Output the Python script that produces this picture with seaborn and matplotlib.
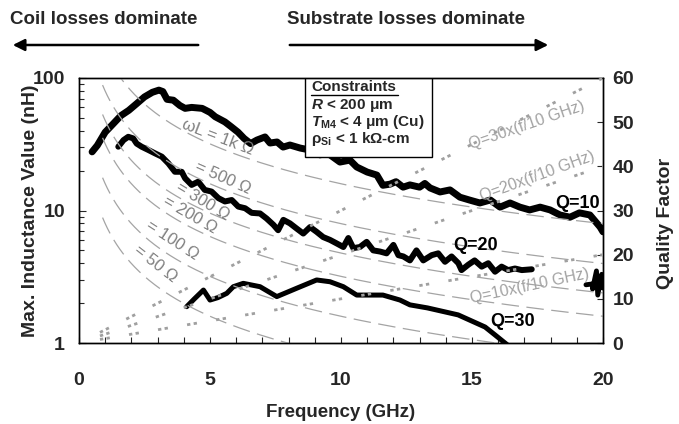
import numpy as np
import pandas as pd
import matplotlib
matplotlib.use("Agg")
import matplotlib.pyplot as plt
import seaborn as sns
from matplotlib import font_manager
from matplotlib.patches import Rectangle, FancyArrowPatch
from matplotlib.ticker import FixedLocator, NullFormatter, MultipleLocator

# ---------------- data ----------------
q10_freq = [0.5, 0.7, 1.0, 1.3, 1.6, 1.9, 2.2, 2.5, 2.8, 3.05, 3.2, 3.36, 3.6, 3.85,
            4.05, 4.3, 4.7, 5.0, 5.2, 5.57, 5.8, 6.07, 6.3, 6.55, 6.79, 7.1, 7.29,
            7.56, 7.79, 8.05, 8.44, 8.82, 9.2, 9.4, 9.58, 9.96, 10.34, 10.6, 11.0,
            11.37, 11.6, 11.87, 12.1, 12.37, 12.63, 13.0, 13.2, 13.4, 13.78, 14.16,
            14.54, 14.9, 15.3, 15.7, 16.07, 16.45, 16.83, 17.2, 17.6, 17.98, 18.36,
            18.74, 19.1, 19.5, 19.89, 20.0]
q10_L = [27.7, 31, 39, 45, 52, 57, 64, 72, 78, 81, 79, 69, 68, 62,
         59, 60, 59, 55, 51, 46.6, 43, 39, 35, 32, 34, 35.9, 32.3,
         32.9, 30.1, 31.2, 29.6, 28.6, 26.3, 27, 26.3, 23.2, 24, 21.3, 19.5,
         18.5, 15.5, 15.8, 16.5, 15, 15.6, 15, 16, 14.8, 13.8, 14.3,
         12.6, 12, 11.4, 12, 10.6, 11.4, 10.6, 10.1, 10.6, 10.1, 9.25,
         8.9, 9.6, 9.25, 7.5, 6.9]

q20_freq = [1.5, 1.7, 1.88, 2.07, 2.2, 2.39, 2.65, 2.9, 3.16, 3.41, 3.66, 3.92, 4.05,
            4.3, 4.55, 4.8, 5.06, 5.32, 5.57, 5.83, 6.08, 6.34, 6.59, 6.91, 7.16,
            7.42, 7.6, 7.8, 8.05, 8.31, 8.56, 8.82, 9.07, 9.32, 9.58, 9.83, 10.09,
            10.28, 10.47, 10.72, 10.98, 11.23, 11.49, 11.74, 12.0, 12.19, 12.38,
            12.63, 12.88, 13.14, 13.46, 13.71, 13.97, 14.22, 14.48, 14.6, 14.86,
            15.1, 15.37, 15.62, 15.88, 16.13, 16.38, 16.64, 16.9, 17.28]
q20_L = [30.3, 34, 36, 35, 32, 30.3, 28.6, 27, 25.5, 22.7, 19.6, 19.6, 17.5,
         15.6, 16.5, 14.3, 13.9, 12.4, 11.7, 12, 10.7, 10.4, 9.6, 9.5, 8.7,
         7.8, 7.1, 8.5, 8.0, 7.3, 6.7, 7.5, 6.9, 6.3, 6.0, 5.65, 5.3,
         6.2, 5.2, 5.3, 5.8, 5.0, 4.9, 4.75, 5.5, 4.6, 4.5,
         4.2, 5.0, 4.2, 4.6, 4.75, 4.1, 4.5, 4.0, 3.55, 3.9,
         4.2, 3.77, 4.0, 3.45, 3.77, 3.55, 3.65, 3.55, 3.6]

q20_tail_freq = [19.35, 19.65, 19.6, 19.75, 19.8, 19.95, 20.0]
q20_tail_L = [2.75, 2.8, 2.55, 3.5, 2.3, 3.3, 2.6]

q30_freq = [4.11, 4.4, 4.75, 5.0, 5.3, 5.64, 5.89, 6.27, 6.91, 7.55, 8.31, 9.07,
            9.58, 10.09, 10.6, 11.6, 12.25, 12.63, 13.3, 14.47, 15.5, 15.88, 16.26, 16.4]
q30_L = [1.88, 2.15, 2.51, 2.11, 2.2, 2.37, 2.66, 2.82, 2.66, 2.24, 2.59, 2.99,
         2.9, 2.66, 2.3, 2.3, 2.11, 1.94, 1.84, 1.63, 1.32, 1.15, 1.0, 0.95]

reactances_ohm = [1000, 500, 300, 200, 100, 50]
reactance_labels = ["ωL = 1k Ω", "= 500 Ω", "= 300 Ω", "= 200 Ω", "= 100 Ω", "= 50 Ω"]
q_slopes = [10, 20, 30]
q_slope_labels = ["Q=10x(f/10 GHz)", "Q=20x(f/10 GHz)", "Q=30x(f/10 GHz)"]
curve_labels = ["Q=10", "Q=20", "Q=30"]
x_ticks = [0, 5, 10, 15, 20]
left_ticks = [1, 10, 100]
right_ticks = [0, 10, 20, 30, 40, 50, 60]

# ---------------- style ----------------
sns.set_style("ticks")
names = {f.name for f in font_manager.fontManager.ttflist}
narrow = "Liberation Sans Narrow" if "Liberation Sans Narrow" in names else "Liberation Sans"
plt.rcParams["font.family"] = ["Liberation Sans", "DejaVu Sans"]
plt.rcParams["mathtext.fontset"] = "custom"
plt.rcParams["mathtext.rm"] = "Liberation Sans:bold"
plt.rcParams["mathtext.it"] = "Liberation Sans:italic:bold"
plt.rcParams["mathtext.bf"] = "Liberation Sans:bold"

W, H = 679, 424
fig = plt.figure(figsize=(W / 100, H / 100), dpi=100)
x0, x1, yt, yb = 79, 603, 78, 343
ax = fig.add_axes([x0 / W, 1 - yb / H, (x1 - x0) / W, (yb - yt) / H])
ax2 = ax.twinx()

ax.set_xlim(0, 20)
ax.set_yscale("log")
ax.set_ylim(1, 100)
ax2.set_ylim(0, 60)

# constant-reactance guide curves (L = X / (2 pi f))
fgrid = np.geomspace(0.9, 20, 200)
for X in reactances_ohm:
    sns.lineplot(x=fgrid, y=X / (2 * np.pi * fgrid), ax=ax, color="#a4a4a4",
                 linewidth=0.9, linestyle=(0, (14, 6)), zorder=4)

# main curves
for fr, L, lw in [(q10_freq, q10_L, 5.0), (q20_freq, q20_L, 4.3),
                  (q20_tail_freq, q20_tail_L, 3.5), (q30_freq, q30_L, 3.6)]:
    df = pd.DataFrame({"f": fr, "L": L})
    sns.lineplot(data=df, x="f", y="L", ax=ax, color="black", linewidth=lw,
                 sort=False, estimator=None, zorder=3,
                 solid_capstyle="round", solid_joinstyle="round")

# Q = N x (f/10 GHz) guide lines on the right axis
for N in q_slopes:
    fq = [0.8, 20]
    sns.lineplot(x=fq, y=[N * v / 10 for v in fq], ax=ax2, color="#a0a0a0",
                 linewidth=2.0, linestyle=(0, (1.2, 1.2, 1.2, 7)), zorder=4)

# ---------------- axes styling ----------------
for a in (ax, ax2):
    for s in a.spines.values():
        s.set_color("black")
        s.set_linewidth(1.0)

ax.xaxis.set_major_locator(FixedLocator(x_ticks))
ax.xaxis.set_minor_locator(MultipleLocator(1))
ax.set_xticklabels([str(t) for t in x_ticks], fontfamily=narrow,
                   fontweight="bold", fontsize=14)
ax.tick_params(axis="x", which="both", direction="in", length=4, width=0.8,
               pad=21, top=False)

ax.yaxis.set_major_locator(FixedLocator(left_ticks))
ax.yaxis.set_minor_formatter(NullFormatter())
ax.set_yticklabels([str(t) for t in left_ticks], fontweight="bold", fontsize=14)
ax.tick_params(axis="y", which="major", direction="in", length=5, width=0.8, pad=10)
ax.tick_params(axis="y", which="minor", direction="in", length=3.5, width=0.8)

ax2.yaxis.set_major_locator(FixedLocator(right_ticks))
ax2.set_yticklabels([str(t) for t in right_ticks], fontfamily=narrow,
                    fontweight="bold", fontsize=14)
ax2.tick_params(axis="y", which="major", direction="in", length=4, width=0.8, pad=7)

ax.set_xlabel("Frequency (GHz)", fontfamily=narrow, fontweight="bold", fontsize=13.5)
ax.xaxis.set_label_coords(0.5, -0.23)
ax.set_ylabel("Max. Inductance Value (nH)", fontweight="bold", fontsize=14)
ax.yaxis.set_label_coords(-0.076, 0.5)
ax2.set_ylabel("Quality Factor", fontweight="bold", fontsize=14, rotation=90)
ax2.yaxis.set_label_coords(1.103, 0.45)

# ---------------- annotations ----------------
def px2f(x):
    return (x - x0) / (x1 - x0) * 20

def py2L(y):
    return 10 ** (2 - (y - yt) / (yb - yt) * 2)

def py2Q(y):
    return (yb - y) / (yb - yt) * 60

gray = "#808080"
react_pos = [(218, 137, -21), (223, 178, -24), (203, 201, -31),
             (190, 215, -30), (172, 240, -33), (155, 264, -38)]
for lab, (px, py, ang) in zip(reactance_labels, react_pos):
    ax.text(px2f(px), py2L(py), lab, color=gray, fontsize=12, rotation=ang,
            ha="center", va="center", rotation_mode="anchor", zorder=5)

qs_pos = [(530, 286, 12), (537, 176, 20), (527, 125, 19)]
for lab, (px, py, ang) in zip(q_slope_labels, qs_pos):
    ax2.text(px2f(px), py2Q(py), lab, color="#a2a2a2", fontsize=11.5, rotation=ang,
             ha="center", va="center", rotation_mode="anchor", zorder=5)

cl_pos = [(578, 203), (476, 245), (513, 322)]
for lab, (px, py) in zip(curve_labels, cl_pos):
    ax.text(px2f(px), py2L(py), lab, color="black", fontsize=13, fontweight="bold",
            ha="center", va="center", zorder=6)

# constraints box
bx0, bx1, by0 = 305, 432, 157
ax.add_patch(Rectangle(((bx0 - x0) / (x1 - x0), (yb - by0) / (yb - yt)),
                       (bx1 - bx0) / (x1 - x0), (by0 - yt) / (yb - yt),
                       transform=ax.transAxes, facecolor="white", edgecolor="black",
                       linewidth=1.0, zorder=7))
tx = (311 - x0) / (x1 - x0)
lines = ["Constraints", r"$R$ < 200 μm", r"$T_{\mathrm{M4}}$ < 4 μm (Cu)",
         r"ρ$_{\mathrm{Si}}$ < 1 kΩ-cm"]
ys = [87, 105, 122, 139]
for s, yy in zip(lines, ys):
    ax.text(tx, (yb - yy) / (yb - yt), s, transform=ax.transAxes, fontsize=11,
            fontweight="bold", ha="left", va="center", zorder=8)
ax.plot([tx, (398 - x0) / (x1 - x0)], [(yb - 95) / (yb - yt)] * 2,
        transform=ax.transAxes, color="black", linewidth=1.0, zorder=8)

# top annotations with arrows
fig.text(10 / W, 1 - 20 / H, "Coil losses dominate", fontsize=13.5,
         fontweight="bold", ha="left", va="center")
fig.text(287 / W, 1 - 20 / H, "Substrate losses dominate", fontsize=13.5,
         fontweight="bold", ha="left", va="center")
ay = 1 - 45 / H
fig.add_artist(FancyArrowPatch(
    (201 / W, ay), (10 / W, ay), transform=fig.transFigure,
    arrowstyle="-|>,head_length=7,head_width=3.5", color="black", linewidth=1.8))
fig.add_artist(FancyArrowPatch(
    (287 / W, ay), (551 / W, ay), transform=fig.transFigure,
    arrowstyle="-|>,head_length=7,head_width=3.5", color="black", linewidth=1.8))

fig.savefig("out.png", dpi=100)
